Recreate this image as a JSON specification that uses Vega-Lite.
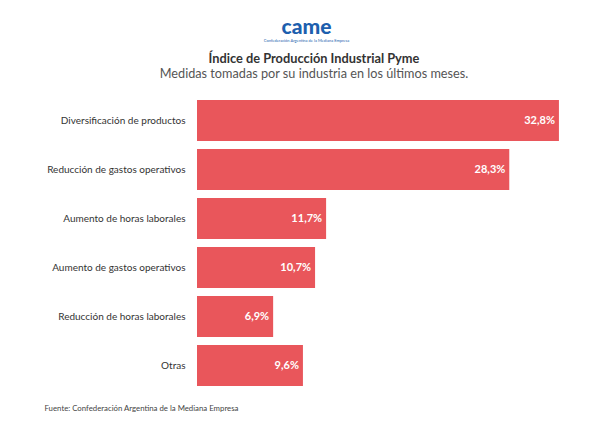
{
  "$schema": "https://vega.github.io/schema/vega-lite/v6.json",
  "padding": {"left": 44, "top": 16, "right": 5, "bottom": 5},
  "background": "white",
  "config": {
    "view": {"stroke": null},
    "concat": {"spacing": 0},
    "locale": {"number": {"decimal": ",", "thousands": ".", "grouping": [3], "currency": ["$", ""]}}
  },
  "title": {
    "text": "came",
    "subtitle": "Confederación Argentina de la Mediana Empresa",
    "anchor": "middle",
    "dx": -14,
    "font": "Lato",
    "fontSize": 21,
    "fontWeight": 900,
    "color": "#1d5fae",
    "subtitleFont": "Lato",
    "subtitleFontSize": 4,
    "subtitleColor": "#1d5fae",
    "subtitlePadding": 1,
    "offset": 10
  },
  "vconcat": [
    {
      "width": 400,
      "height": 294,
      "title": {
        "text": "Índice de Producción Industrial Pyme",
        "subtitle": "Medidas tomadas por su industria en los últimos meses.",
        "anchor": "middle",
        "frame": "group",
        "dx": -83,
        "font": "Lato",
        "fontSize": 12.8,
        "fontWeight": "bold",
        "color": "#333333",
        "subtitleFont": "Lato",
        "subtitleFontSize": 12.7,
        "subtitleColor": "#555555",
        "subtitlePadding": 3,
        "offset": 15
      },
      "data": {
        "values": [
          {"medida": "Diversificación de productos", "valor": 0.328},
          {"medida": "Reducción de gastos operativos", "valor": 0.283},
          {"medida": "Aumento de horas laborales", "valor": 0.117},
          {"medida": "Aumento de gastos operativos", "valor": 0.107},
          {"medida": "Reducción de horas laborales", "valor": 0.069},
          {"medida": "Otras", "valor": 0.096}
        ]
      },
      "encoding": {
        "y": {
          "field": "medida",
          "type": "nominal",
          "sort": null,
          "scale": {"paddingInner": 0.16, "paddingOuter": 0.08},
          "axis": {
            "title": null,
            "domain": false,
            "ticks": false,
            "labelPadding": 12,
            "labelFont": "Lato",
            "labelFontSize": 10,
            "labelColor": "#333333",
            "labelLimit": 300
          }
        },
        "x": {
          "field": "valor",
          "type": "quantitative",
          "scale": {"domain": [0, 0.3625], "nice": false},
          "axis": {
            "grid": false,
            "domain": false,
            "ticks": false,
            "labels": false,
            "title": "Fuente: Confederación Argentina de la Mediana Empresa",
            "titleAnchor": "start",
            "titleX": -153,
            "titleFont": "Lato",
            "titleFontSize": 7.8,
            "titleFontWeight": "normal",
            "titleColor": "#444444",
            "titlePadding": 14
          }
        }
      },
      "layer": [
        {"mark": {"type": "bar", "color": "#e9565b"}},
        {
          "mark": {"type": "text", "align": "right", "dx": -4, "color": "white", "font": "Lato", "fontWeight": "bold", "fontSize": 11},
          "encoding": {"text": {"field": "valor", "type": "quantitative", "format": ".1%"}}
        }
      ]
    }
  ]
}
